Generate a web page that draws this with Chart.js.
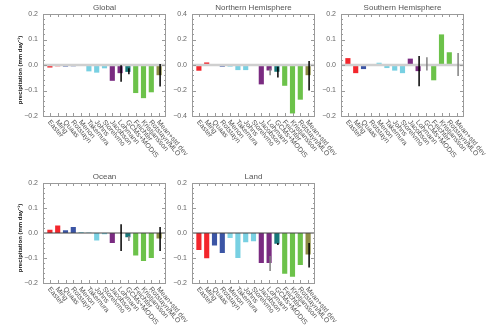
<!DOCTYPE html>
<html>
<head>
<meta charset="utf-8">
<script src="https://cdn.jsdelivr.net/npm/chart.js@4"></script>
<style>
  body { margin: 0; width: 504px; height: 332px; overflow: hidden; background: #fff; position: relative; }
  canvas { position: absolute; }
</style>
</head>
<body>
<canvas id="global" width="210" height="175" style="left:0px;top:0px"></canvas>
<canvas id="nh" width="210" height="175" style="left:149px;top:0px"></canvas>
<canvas id="sh" width="210" height="175" style="left:298px;top:0px"></canvas>
<canvas id="ocean" width="210" height="173" style="left:0px;top:169px"></canvas>
<canvas id="land" width="210" height="173" style="left:149px;top:169px"></canvas>
<script>
const categories = ["Easter", "Ming", "Quaas", "Rotstayn", "Menon", "Takemura", "Johns",
  "Storelvmo", "Jacobson", "Lohmann", "GCMs+MODIS", "Feichter", "Kristjansson",
  "Rotstayn/MLO", "Mean+std dev"];

const globalVals = [-0.010, -0.005, -0.006, -0.005, -0.002, -0.025, -0.030, -0.013,
  -0.062, -0.032, -0.027, -0.110, -0.130, -0.107, -0.040];
const nhVals = [-0.045, 0.020, -0.008, -0.013, -0.013, -0.040, -0.040, 0.005,
  -0.152, -0.043, -0.053, -0.163, -0.380, -0.272, -0.080];
const shVals = [0.027, -0.032, -0.016, -0.002, 0.009, -0.012, -0.022, -0.032,
  0.025, -0.024, 0.003, -0.060, 0.120, 0.050, 0.002];
const oceanVals = [0.013, 0.030, 0.011, 0.024, 0.004, 0.002, -0.030, -0.005,
  -0.040, 0.000, -0.017, -0.090, -0.112, -0.100, -0.022];
const landVals = [-0.068, -0.101, -0.050, -0.080, -0.020, -0.100, -0.037, -0.033,
  -0.120, -0.120, -0.043, -0.163, -0.175, -0.128, -0.086];

// error ranges [low, high], null where none
const globalErr = [null, null, null, null, null, null, null, null, null,
  [-0.066, -0.001], [-0.036, -0.013], null, null, null, [-0.084, 0.004]];
const nhErr = [null, null, null, null, null, null, null, null, null,
  [-0.080, -0.027], [-0.099, -0.013], null, null, null, [-0.200, 0.032]];
const shErr = [null, null, null, null, null, null, null, null, null,
  [-0.083, 0.035], [-0.022, 0.030], null, null, null, [-0.043, 0.047]];
const oceanErr = [null, null, null, null, null, null, null, null, null,
  [-0.072, 0.035], [-0.032, -0.012], null, null, null, [-0.072, 0.024]];
const landErr = [null, null, null, null, null, null, null, null, null,
  [-0.152, -0.092], [-0.048, -0.040], null, null, null, [-0.138, -0.040]];

// which error bars are drawn grey instead of black
const globalErrGrey = [];
const nhErrGrey = [9];
const shErrGrey = [10, 14];
const oceanErrGrey = [10];
const landErrGrey = [9];

const barColors = ["#f3262c", "#f3262c", "#3b55a5", "#3b55a5", "#85d9e8", "#78d0e2",
  "#78d0e2", "#78d0e2", "#7a2b81", "#7a2b81", "#17787a", "#6cc24a", "#6cc24a",
  "#6cc24a", "#8b8b42"];

const FONT = "'Liberation Sans', Arial, sans-serif";

const panelDeco = {
  id: 'panelDeco',
  afterDatasetsDraw(chart, args, opts) {
    const { ctx, chartArea: a, scales: { x, y } } = chart;
    const L = a.left - 3, R = a.right + 3, T = a.top, B = a.bottom;
    ctx.save();

    // zero line
    const y0 = y.getPixelForValue(0);
    ctx.strokeStyle = opts.zeroColor;
    ctx.lineWidth = opts.zeroWidth;
    ctx.beginPath(); ctx.moveTo(L, y0); ctx.lineTo(R, y0); ctx.stroke();

    // error bars
    const meta = chart.getDatasetMeta(0);
    ctx.lineWidth = 1.5;
    opts.err.forEach((e, i) => {
      if (!e) return;
      const px = meta.data[i].x + 1;
      ctx.strokeStyle = opts.grey.includes(i) ? "#808080" : "#000";
      ctx.beginPath();
      ctx.moveTo(px, y.getPixelForValue(e[0]));
      ctx.lineTo(px, y.getPixelForValue(e[1]));
      ctx.stroke();
    });

    // frame
    ctx.strokeStyle = "#9a9a9a";
    ctx.lineWidth = 1;
    ctx.strokeRect(L + 0.5, T + 0.5, R - L - 1, B - T);

    // y ticks, both sides
    const n = Math.round((opts.max - opts.min) / opts.minor);
    for (let k = 0; k <= n; k++) {
      const v = opts.min + k * opts.minor;
      const py = Math.round(y.getPixelForValue(v)) + 0.5;
      const major = k % opts.per === 0;
      const len = major ? 4 : 2;
      ctx.beginPath();
      ctx.moveTo(L, py); ctx.lineTo(L + len, py);
      ctx.moveTo(R, py); ctx.lineTo(R - len, py);
      ctx.stroke();
    }
    // x ticks, top and bottom
    categories.forEach((c, i) => {
      const px = Math.round(x.getPixelForTick(i)) + 0.5;
      ctx.beginPath();
      ctx.moveTo(px, B); ctx.lineTo(px, B - 3);
      ctx.moveTo(px, T); ctx.lineTo(px, T + 3);
      ctx.stroke();
    });

    // title
    ctx.fillStyle = "#555";
    ctx.font = "8px " + FONT;
    ctx.textAlign = "center";
    ctx.textBaseline = "middle";
    ctx.fillText(opts.title, (L + R) / 2, T - 6);

    // rotated category labels
    ctx.font = "7px " + FONT;
    ctx.textAlign = "left";
    ctx.fillStyle = "#555";
    categories.forEach((c, i) => {
      ctx.save();
      ctx.translate(x.getPixelForTick(i) - 1, B + 5);
      ctx.rotate(50 * Math.PI / 180);
      ctx.fillText(c, 0, 0);
      ctx.restore();
    });

    // y axis title
    if (opts.yTitle) {
      ctx.save();
      ctx.translate(20, (T + B) / 2 + 5);
      ctx.rotate(-Math.PI / 2);
      ctx.textAlign = "center";
      ctx.fillStyle = "#111";
      ctx.font = "bold 6px " + FONT;
      ctx.fillText(opts.yTitle, 0, 0);
      ctx.restore();
    }
    ctx.restore();
  }
};

function fmt(v) {
  if (Math.abs(v) < 1e-9) return "0.0";
  return (v < 0 ? "\u2212" : "") + Math.abs(v).toFixed(1);
}

function panel(id, title, vals, err, grey, min, max, step, yTitle, zeroColor, zeroWidth) {
  new Chart(id, {
    type: "bar",
    data: {
      labels: categories,
      datasets: [{
        data: vals,
        backgroundColor: barColors,
        barPercentage: 0.66,
        categoryPercentage: 1
      }]
    },
    options: {
      responsive: false,
      animation: false,
      devicePixelRatio: 1,
      layout: { padding: { top: 14, right: 47, left: 0, bottom: 0 } },
      plugins: {
        legend: { display: false },
        tooltip: { enabled: false },
        panelDeco: {
          title: title, err: err, grey: grey, min: min, max: max,
          minor: step / 5, per: 5, yTitle: yTitle,
          zeroColor: zeroColor, zeroWidth: zeroWidth
        }
      },
      scales: {
        x: {
          grid: { display: false, drawTicks: false },
          border: { display: false },
          ticks: { display: false },
          afterFit: s => { s.height = 59; }
        },
        y: {
          min: min,
          max: max,
          grid: { display: false, drawTicks: false },
          border: { display: false },
          ticks: {
            stepSize: step,
            padding: 8,
            color: "#666",
            font: { family: FONT, size: 7 },
            callback: fmt
          },
          afterFit: s => { s.width = 46; }
        }
      }
    },
    plugins: [panelDeco]
  });
}

const yLab = "precipitation (mm day\u207B\u00B9)";
panel("global", "Global", globalVals, globalErr, globalErrGrey, -0.2, 0.2, 0.1, yLab, "#cfcfcf", 2.5);
panel("nh", "Northern Hemisphere", nhVals, nhErr, nhErrGrey, -0.4, 0.4, 0.2, null, "#cfcfcf", 2.5);
panel("sh", "Southern Hemisphere", shVals, shErr, shErrGrey, -0.2, 0.2, 0.1, null, "#cfcfcf", 2.5);
panel("ocean", "Ocean", oceanVals, oceanErr, oceanErrGrey, -0.2, 0.2, 0.1, yLab, "#444", 1);
panel("land", "Land", landVals, landErr, landErrGrey, -0.2, 0.2, 0.1, null, "#444", 1);
</script>
</body>
</html>
